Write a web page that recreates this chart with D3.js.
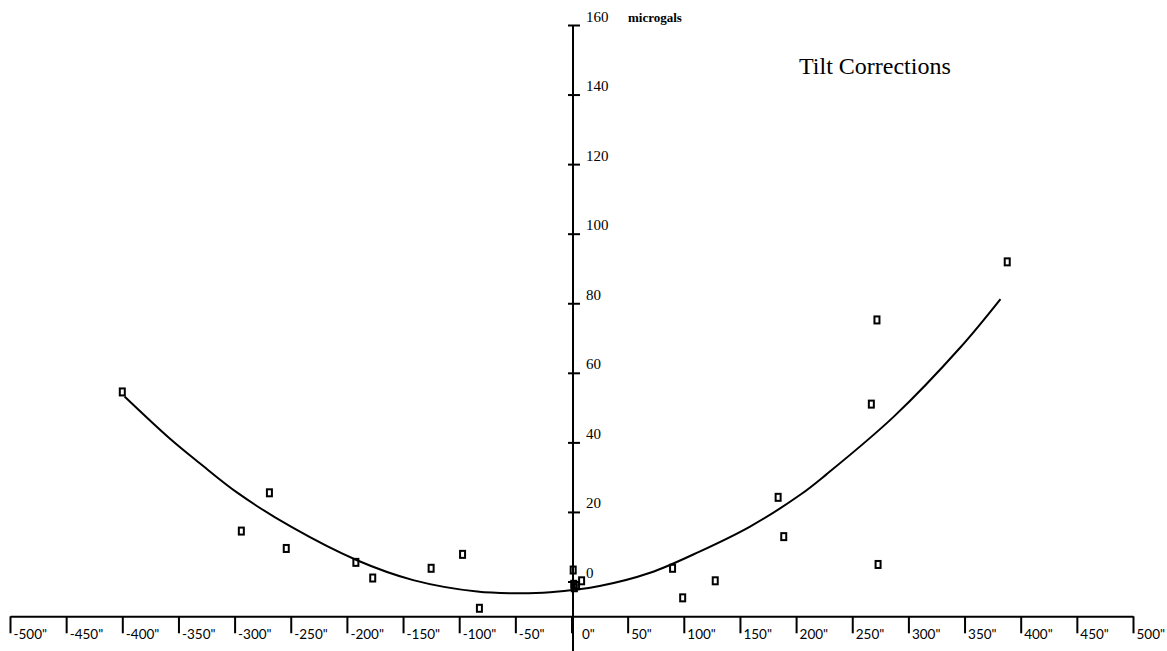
<!DOCTYPE html>
<html>
<head>
<meta charset="utf-8">
<script src="https://cdn.jsdelivr.net/npm/d3@7"></script>
<style>
  body { margin: 0; background: #fff; }
  svg { display: block; }
</style>
</head>
<body>
<svg id="chart" width="1167" height="651"></svg>
<script>
// Tick values (arc-seconds of tilt, microgals of correction)
const xTickValues = [-500, -450, -400, -350, -300, -250, -200, -150, -100, -50, 0, 50, 100, 150, 200, 250, 300, 350, 400, 450, 500];
const yTickValues = [0, 20, 40, 60, 80, 100, 120, 140, 160];

// Observed corrections
const obsTilt = [-400, -269, -294, -254, -192, -177, -125, -97, -82, 1.5, 9, 2, 4.5, 2.5, 90, 99, 128, 184, 189, 267, 272, 273, 388];
const obsGal  = [54.5, 25.5, 14.5, 9.5, 5.5, 1, 3.8, 7.8, -7.7, 3.3, 0.2, -0.8, -1.2, -1.8, 3.8, -4.7, 0.2, 24.2, 12.9, 51, 75.2, 4.9, 91.9];

// Fitted trend curve
const fitTilt = [-398, -358, -331, -297, -249, -191, -141, -84, -49, -19, 25, 70, 114, 159, 204, 227, 287, 346, 382];
const fitGal  = [53.2, 41.2, 34.0, 25.4, 15.6, 6.1, 0.4, -2.9, -3.4, -3.1, -1.3, 2.5, 8.6, 15.8, 25.0, 30.8, 47.4, 67.2, 81.2];

const svg = d3.select("#chart");
const x = d3.scaleLinear().domain([-500, 500]).range([10, 1133]);
const y = d3.scaleLinear().domain([0, 160]).range([581.5, 25]);

const serif = "'Liberation Serif', 'Times New Roman', serif";
const sans = "Lato, 'Liberation Sans', sans-serif";

// Horizontal axis, drawn slightly below the zero line
const xAxisY = y(-10);
const xAxis = svg.append("g")
  .attr("transform", `translate(0,${xAxisY})`)
  .call(d3.axisBottom(x).tickValues(xTickValues).tickSize(17).tickSizeOuter(0)
    .tickFormat(d => d + '"'));
xAxis.select(".domain").attr("stroke", "#000").attr("stroke-width", 2);
xAxis.selectAll(".tick line").attr("stroke", "#000").attr("stroke-width", 2);
xAxis.selectAll(".tick text")
  .attr("text-anchor", "start")
  .attr("x", d => d === 0 ? 10 : 3)   // the zero label clears the vertical axis
  .attr("y", 23)
  .attr("dy", 0)
  .attr("fill", "#000")
  .style("font-family", sans)
  .style("font-size", "13.5px");

// Vertical axis through zero tilt, running to the bottom edge
const x0 = x(0) + 1.5;
svg.append("line")
  .attr("x1", x0).attr("x2", x0)
  .attr("y1", y(160)).attr("y2", 651)
  .attr("stroke", "#000").attr("stroke-width", 2);

const yAxis = svg.append("g")
  .attr("transform", `translate(${x0},0)`)
  .call(d3.axisRight(y).tickValues(yTickValues).tickSize(7).tickSizeOuter(0));
yAxis.select(".domain").remove();
yAxis.selectAll(".tick line")
  .attr("x1", -5)
  .attr("stroke", "#000").attr("stroke-width", 2);
yAxis.selectAll(".tick text")
  .attr("x", 13)
  .attr("y", -4)
  .attr("dy", 0)
  .attr("fill", "#000")
  .style("font-family", serif)
  .style("font-size", "15px");

svg.append("text")
  .attr("x", 628).attr("y", 22)
  .style("font-family", serif)
  .style("font-size", "13px")
  .style("font-weight", "bold")
  .text("microgals");

svg.append("text")
  .attr("x", 799).attr("y", 74)
  .style("font-family", serif)
  .style("font-size", "24px")
  .text("Tilt Corrections");

// Trend curve
const fitData = fitTilt.map((t, i) => [t, fitGal[i]]);
svg.append("path")
  .datum(fitData)
  .attr("fill", "none")
  .attr("stroke", "#000")
  .attr("stroke-width", 2)
  .attr("d", d3.line().x(d => x(d[0])).y(d => y(d[1])).curve(d3.curveCatmullRom));

// Observations as hollow squares
const obsData = obsTilt.map((t, i) => [t, obsGal[i]]);
svg.append("g").selectAll("rect")
  .data(obsData)
  .join("rect")
  .attr("x", d => x(d[0]) - 2.5)
  .attr("y", d => y(d[1]) - 3.5)
  .attr("width", 5)
  .attr("height", 7)
  .attr("fill", "none")
  .attr("stroke", "#000")
  .attr("stroke-width", 2);
</script>
</body>
</html>
